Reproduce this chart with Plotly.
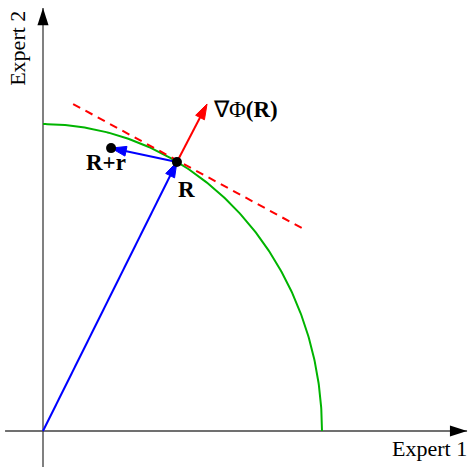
import numpy as np
import plotly.graph_objects as go

# ---- data (units: 1 = semi-axis of the green curve along Expert 1) ----
semi_axis_x = 1.0
semi_axis_y = 1.10
R = (0.48, 0.964)
R_plus_r = (0.244, 1.014)
grad_tip = (0.588, 1.172)
tangent_x = [0.108, 0.932]
tangent_y = [1.172, 0.725]
x_axis_span = [-0.136, 1.520]
y_axis_span = [-0.129, 1.516]
labels = ["Expert 1", "Expert 2", "<b>R+r</b>", "<b>R</b>", "∇Φ<b>(R)</b>"]

FONT = "Liberation Serif, Times New Roman, serif"

fig = go.Figure()

# axes
fig.add_trace(go.Scatter(x=[0, 0], y=y_axis_span, mode="lines",
                         line=dict(color="#808080", width=2), hoverinfo="skip"))
fig.add_trace(go.Scatter(x=x_axis_span, y=[0, 0], mode="lines",
                         line=dict(color="#404040", width=1.5), hoverinfo="skip"))
fig.add_trace(go.Scatter(x=[0, x_axis_span[1]], y=[y_axis_span[1], 0], mode="markers",
                         marker=dict(symbol="arrow", size=18, angle=[0, 90], color="black",
                                     line=dict(width=0)), hoverinfo="skip"))

# green quarter curve
t = np.linspace(0, np.pi / 2, 200)
fig.add_trace(go.Scatter(x=semi_axis_x * np.cos(t), y=semi_axis_y * np.sin(t), mode="lines",
                         line=dict(color="#00b400", width=2), hoverinfo="skip"))

# tangent dashed line
fig.add_trace(go.Scatter(x=tangent_x, y=tangent_y, mode="lines",
                         line=dict(color="#ff0000", width=2, dash="8px,6px"), hoverinfo="skip"))


def arrow(x0, y0, x1, y1, color):
    fig.add_trace(go.Scatter(
        x=[x0, x1], y=[y0, y1], mode="lines+markers",
        line=dict(color=color, width=2),
        marker=dict(symbol=["circle", "arrow"], size=[0, 16], angleref="previous",
                    color=color, opacity=1, line=dict(color=color, width=1)),
        hoverinfo="skip"))


arrow(0, 0, R[0], R[1], "#0000ff")
arrow(R[0], R[1], R_plus_r[0], R_plus_r[1], "#0000ff")
arrow(R[0], R[1], grad_tip[0], grad_tip[1], "#ff0000")

# dots
fig.add_trace(go.Scatter(x=[R[0], R_plus_r[0]], y=[R[1], R_plus_r[1]], mode="markers",
                         marker=dict(color="black", size=10), hoverinfo="skip"))

# labels
fig.add_annotation(x=1.387, y=-0.061, text=labels[0], showarrow=False,
                   font=dict(family=FONT, size=22, color="black"))
fig.add_annotation(x=-0.09, y=1.373, text=labels[1], showarrow=False, textangle=-90,
                   font=dict(family=FONT, size=22, color="black"))
fig.add_annotation(x=0.226, y=0.961, text=labels[2], showarrow=False,
                   font=dict(family=FONT, size=23, color="black"))
fig.add_annotation(x=0.513, y=0.867, text=labels[3], showarrow=False,
                   font=dict(family=FONT, size=23, color="black"))
fig.add_annotation(x=0.724, y=1.151, text=labels[4], showarrow=False,
                   font=dict(family=FONT, size=23, color="black"))

fig.update_layout(
    width=473, height=467,
    margin=dict(l=0, r=0, t=0, b=0),
    paper_bgcolor="white", plot_bgcolor="white",
    showlegend=False,
    xaxis=dict(range=[-43 / 279, 430 / 279], visible=False, fixedrange=True),
    yaxis=dict(range=[-36 / 279, 431 / 279], visible=False, fixedrange=True),
)

fig.write_html("out.html", config={"displayModeBar": False},
               post_script="document.body.style.margin='0px';document.body.style.padding='0px';")
